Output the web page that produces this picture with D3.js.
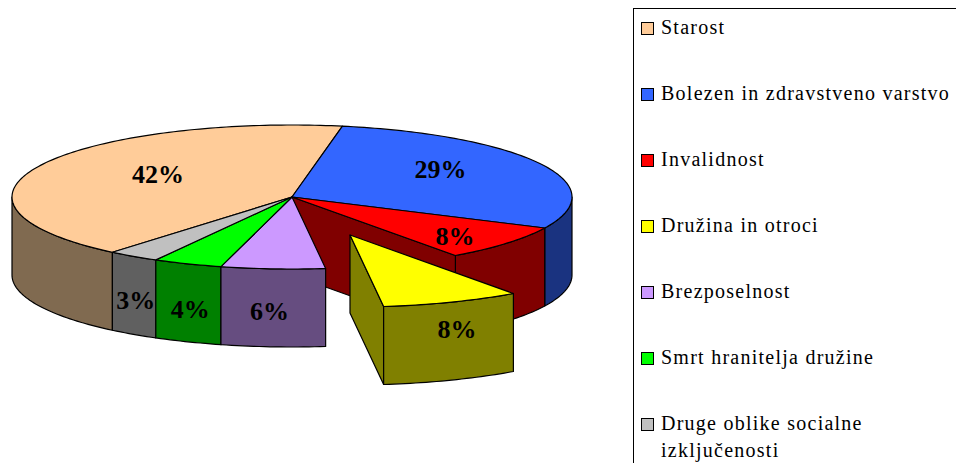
<!DOCTYPE html>
<html>
<head>
<meta charset="utf-8">
<script src="https://cdn.jsdelivr.net/npm/d3@7"></script>
<style>
  html, body { margin: 0; padding: 0; background: #fff; overflow: hidden; }
  text { font-family: "Liberation Serif", serif; fill: #000; }
</style>
</head>
<body>
<div id="chart"></div>
<script>
// Podatki
const categories = ['Starost', 'Bolezen in zdravstveno varstvo', 'Invalidnost', 'Družina in otroci',
  'Brezposelnost', 'Smrt hranitelja družine', 'Druge oblike socialne izključenosti'];
const values = [41.8, 29.2, 8, 8, 6, 4, 3];

// Barve
const topColors = ['#FFCC99', '#3366FF', '#FF0000', '#FFFF00', '#CC99FF', '#00FF00', '#C0C0C0'];
const sideColors = ['#806A50', '#1A3380', '#800000', '#808000', '#664D80', '#008000', '#606060'];

// Postavitev
const width = 956;
const height = 463;
const depth = 78;
const startDeg = 219.9;
const explodedIndex = 3;
const explode = [58, 38];
const labelNudge = [[18, -5], [-1, -8], [34, 11], [46, 54], [-11, 71], [-39, 72], [-61, 67]];

const svg = d3.select('#chart')
  .append('svg')
  .attr('width', width)
  .attr('height', height)
  .style('display', 'block');

const xScale = d3.scaleLinear().domain([-1, 1]).range([12, 572]);
const yScale = d3.scaleLinear().domain([-1, 1]).range([125, 269]);

const TAU = Math.PI * 2;
const pie = d3.pie().sort(null)
  .startAngle(startDeg * Math.PI / 180)
  .endAngle((startDeg + 360) * Math.PI / 180);
const slices = pie(values).map((d, i) => {
  // koti po obratu nazaj v 0..360
  const wrap = d.startAngle >= TAU ? TAU : 0;
  return {
    ...d, i,
    startAngle: d.startAngle - wrap,
    endAngle: d.endAngle - wrap,
    ox: i === explodedIndex ? explode[0] : 0,
    oy: i === explodedIndex ? explode[1] : 0
  };
});

// tocka na elipsi (kot od vrha, v smeri urinega kazalca)
const pt = (a, r, s, drop = 0) => [
  xScale(r * Math.sin(a)) + s.ox,
  yScale(-r * Math.cos(a)) + s.oy + drop
];
const arcPts = (a0, a1, s, drop = 0) => {
  const n = Math.max(2, Math.ceil(Math.abs(a1 - a0) / 0.02));
  return d3.range(n + 1).map(k => pt(a0 + (a1 - a0) * k / n, 1, s, drop));
};
const closed = d3.line();
const face = pts => closed(pts) + 'Z';
const draw = (pts, fill) => svg.append('path')
  .attr('d', face(pts))
  .attr('fill', fill)
  .attr('stroke', '#000')
  .attr('stroke-width', 1.2)
  .attr('stroke-linejoin', 'round');

// zunanja stena - samo sprednji del elipse (kot od 90 do 270 stopinj)
function outerWall(s) {
  const a0 = Math.max(s.startAngle, Math.PI / 2);
  const a1 = Math.min(s.endAngle, Math.PI * 1.5);
  if (a1 <= a0) return;
  draw([...arcPts(a0, a1, s), ...arcPts(a1, a0, s, depth)], sideColors[s.i]);
}
// stena reza od sredisca do roba
function cutWall(s, a, color) {
  const c = pt(0, 0, s);
  const e = pt(a, 1, s);
  const cd = pt(0, 0, s, depth);
  const ed = pt(a, 1, s, depth);
  draw([c, e, ed, cd], color);
}
const topFace = s => draw([pt(0, 0, s), ...arcPts(s.startAngle, s.endAngle, s)], topColors[s.i]);

const rest = slices.filter(s => s.i !== explodedIndex);
const gap = slices[explodedIndex];

// stene: od zadaj naprej
outerWall(slices[1]);
outerWall(slices[2]);
cutWall(slices[2], slices[2].endAngle, sideColors[2]);
outerWall(slices[0]);
outerWall(slices[6]);
outerWall(slices[5]);
outerWall(slices[4]);

// zgornje ploskve
rest.forEach(topFace);

// izvlecen izsek
cutWall(gap, gap.endAngle, sideColors[gap.i]);
outerWall(gap);
topFace(gap);

// oznake
const pct = d3.format('.0f');
svg.append('g').selectAll('text')
  .data(slices)
  .enter()
  .append('text')
  .attr('x', s => pt((s.startAngle + s.endAngle) / 2, 0.6, s)[0] + labelNudge[s.i][0])
  .attr('y', s => pt((s.startAngle + s.endAngle) / 2, 0.6, s)[1] + labelNudge[s.i][1])
  .attr('dy', '0.35em')
  .attr('text-anchor', 'middle')
  .attr('font-size', 26)
  .attr('font-weight', 'bold')
  .text(s => pct(values[s.i]) + '%');

// legenda
const legendY = d3.scalePoint().domain(d3.range(categories.length)).range([34, 430]);
const legendLines = categories.map(c =>
  c.startsWith('Druge') ? ['Druge oblike socialne', 'izključenosti'] : [c]);

svg.append('rect')
  .attr('x', 633.5).attr('y', 8.5)
  .attr('width', 340).attr('height', 480)
  .attr('fill', '#fff').attr('stroke', '#000').attr('stroke-width', 1);

const rows = svg.append('g').selectAll('g')
  .data(categories)
  .enter()
  .append('g')
  .attr('transform', (d, i) => `translate(0,${legendY(i)})`);

rows.append('rect')
  .attr('x', 641.5).attr('y', -11.5)
  .attr('width', 12).attr('height', 12)
  .attr('fill', (d, i) => topColors[i])
  .attr('stroke', '#000').attr('stroke-width', 1);

rows.each(function (d, i) {
  d3.select(this).selectAll('text')
    .data(legendLines[i])
    .enter()
    .append('text')
    .attr('x', 661)
    .attr('y', (l, k) => k * 27)
    .attr('font-size', 20)
    .attr('letter-spacing', 1.25)
    .text(l => l);
});
</script>
</body>
</html>
